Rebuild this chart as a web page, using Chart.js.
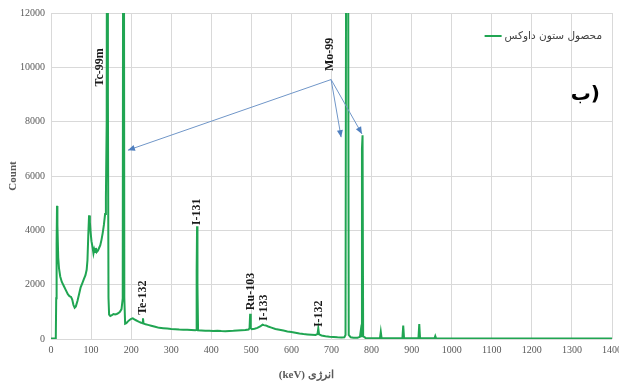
<!DOCTYPE html>
<html><head><meta charset="utf-8">
<script src="https://cdn.jsdelivr.net/npm/chart.js@4/dist/chart.umd.min.js"></script>
<style>html,body{margin:0;padding:0;background:#fff}#wrap{width:619px;height:383px}</style>
</head><body><div id="wrap"><canvas id="c" width="619" height="383"></canvas></div>
<script>
// ---------------- DATA ----------------
const seriesLabel = 'محصول ستون داوکس';
const xTitle = '\u202Bانرژی (keV)\u202C';
const yTitle = 'Count';
const panelTag = 'ب)';
const energies = [0,5,10,12,13,14,15,16,18,20,23,27,32,37,42,46,50,53,56,59,62,66,70,74,78,82,86,89,91,93,95,97,99,101,104,106,108,110,112,114,117,120,123,126,129,132,135,137,139,140.5,142,143.5,145,148,152,156,160,164,168,172,176,179,181,183,185,188,192,196,200,204,208,212,216,220,225,228,229.5,231,236,242,250,260,270,280,290,300,310,320,330,340,350,360,362,363.5,364.5,365.5,367,375,385,395,405,415,425,435,445,455,465,475,485,493,495.5,497,498.5,501,508,515,522,528,531,536,542,550,560,570,580,590,600,610,620,630,640,650,660,665,667,669,675,685,695,705,715,725,732,735,737,739,741,743,748,755,765,771,773,775,776,777.5,779,785,800,815,821,823,825,850,877,879,881,900,917,919,921,940,957,959,961,1000,1100,1200,1300,1400];
const counts = [20,15,20,60,1500,3500,4900,4200,3000,2600,2300,2100,1950,1800,1650,1580,1550,1450,1250,1150,1200,1400,1650,1900,2050,2200,2350,2550,2900,3800,4550,4300,3900,3600,3350,3150,3300,3200,3350,3200,3250,3350,3450,3650,3900,4200,4600,5200,8000,30000,9000,1500,900,850,880,920,900,920,950,1000,1100,1500,30000,1500,560,580,650,700,740,760,720,690,660,630,600,580,760,570,540,520,490,450,410,400,385,370,360,350,345,340,330,320,330,2500,4150,2000,320,310,300,305,295,300,290,285,295,300,310,320,330,350,400,930,400,360,380,410,460,530,510,500,460,420,370,340,310,280,260,230,200,180,170,160,150,180,390,170,130,100,80,70,60,55,60,150,20000,30000,20000,150,60,50,50,80,300,100,7000,7500,100,40,30,30,30,260,30,30,30,490,30,30,30,550,30,25,25,110,25,20,20,20,20,20];
const peakNames = ['Tc-99m','Te-132','I-131','Ru-103','I-133','I-132','Mo-99'];
const peakLabelAt = [[122,10000],[230,1520],[364,4680],[500,1750],[532,1150],[669,930],[697,10480]];
const arrowFrom = [699,9550];
const arrowTo = [[192,6950],[724,7430],[776,7550]];
// --------------------------------------

const green = '#20a552';
const serif = "'Liberation Serif', 'Times New Roman', serif";
const annot = {
  id:'annot',
  afterDatasetsDraw(chart){
    const {ctx, chartArea, scales:{x,y}} = chart;
    ctx.save();
    ctx.fillStyle = '#1a1a1a';
    ctx.font = 'bold 12px ' + serif;
    ctx.textAlign = 'center'; ctx.textBaseline = 'middle';
    peakNames.forEach((n,i)=>{
      const px = x.getPixelForValue(peakLabelAt[i][0]);
      const py = y.getPixelForValue(peakLabelAt[i][1]);
      ctx.save(); ctx.translate(px,py); ctx.rotate(-Math.PI/2); ctx.fillText(n,0,0); ctx.restore();
    });
    ctx.strokeStyle = '#7096c8'; ctx.fillStyle = '#4f7fbf'; ctx.lineWidth = 1;
    const fx = x.getPixelForValue(arrowFrom[0]), fy = y.getPixelForValue(arrowFrom[1]);
    arrowTo.forEach(t=>{
      const tx = x.getPixelForValue(t[0]), ty = y.getPixelForValue(t[1]);
      ctx.beginPath(); ctx.moveTo(fx,fy); ctx.lineTo(tx,ty); ctx.stroke();
      const a = Math.atan2(ty-fy, tx-fx), L = 7, W = 3;
      ctx.beginPath();
      ctx.moveTo(tx,ty);
      ctx.lineTo(tx - L*Math.cos(a) + W*Math.sin(a), ty - L*Math.sin(a) - W*Math.cos(a));
      ctx.lineTo(tx - L*Math.cos(a) - W*Math.sin(a), ty - L*Math.sin(a) + W*Math.cos(a));
      ctx.closePath(); ctx.fill();
    });
    // legend
    const lx = chartArea.right - 10, ly = chartArea.top + 23;
    ctx.font = '10.5px "DejaVu Sans"';
    ctx.fillStyle = '#404040'; ctx.textAlign = 'right'; ctx.textBaseline = 'middle';
    ctx.fillText(chart.data.datasets[0].label, lx, ly);
    const w = ctx.measureText(chart.data.datasets[0].label).width;
    ctx.strokeStyle = green; ctx.lineWidth = 2;
    ctx.beginPath(); ctx.moveTo(lx - w - 20, ly); ctx.lineTo(lx - w - 3, ly); ctx.stroke();
    // panel tag
    ctx.font = 'bold 20px "DejaVu Sans"';
    ctx.fillStyle = '#000'; ctx.textAlign = 'right';
    ctx.fillText(panelTag, chartArea.right - 12, chartArea.top + 82);
    // x axis title (sits left of centre in the original)
    ctx.font = 'bold 11px ' + serif;
    ctx.fillStyle = '#595959'; ctx.textAlign = 'center'; ctx.textBaseline = 'middle';
    ctx.fillText(xTitle, chartArea.left + (chartArea.right - chartArea.left) * 0.455, chartArea.bottom + 36);
    ctx.restore();
  }
};

const tickFont = {family:serif, size:10};
new Chart(document.getElementById('c'), {
  type:'line',
  data:{datasets:[{
    label: seriesLabel,
    data: energies.map((e,i)=>({x:e, y:counts[i]})),
    borderColor: green, backgroundColor: green,
    borderWidth: 2, pointRadius: 0, tension: 0, fill:false
  }]},
  options:{
    responsive:false, animation:false, devicePixelRatio:1,
    layout:{padding:{left:7,right:0,top:13,bottom:22}},
    plugins:{legend:{display:false}, tooltip:{enabled:false}},
    scales:{
      x:{type:'linear', min:0, max:1400,
        afterFit:(s)=>{ s.paddingRight = 7; },
        ticks:{stepSize:100, color:'#595959', font:tickFont, maxRotation:0, padding:5, callback:(v)=>String(v)},
        grid:{color:'#d9d9d9', drawTicks:false}, border:{display:false},
        title:{display:false}
      },
      y:{min:0, max:12000,
        afterFit:(s)=>{ s.width = 44; },
        ticks:{stepSize:2000, color:'#595959', font:tickFont, padding:6, callback:(v)=>String(v)},
        grid:{color:'#d9d9d9', drawTicks:false}, border:{display:false},
        title:{display:true, text:yTitle, color:'#595959', font:{family:serif, size:11, weight:'bold'}, padding:{top:0,bottom:1}}
      }
    }
  },
  plugins:[annot]
});
</script></body></html>
